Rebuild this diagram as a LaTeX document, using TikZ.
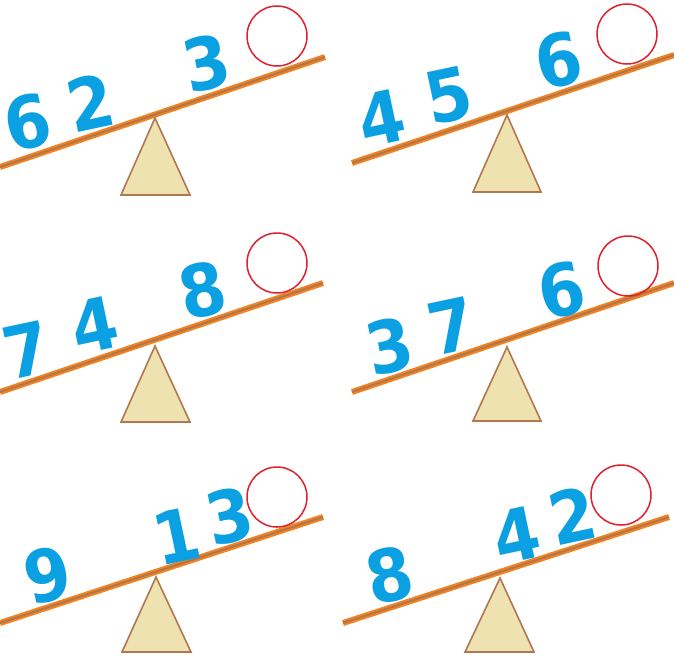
\documentclass[tikz,border=0pt]{standalone}
\usepackage{fontspec}
\newfontfamily\digitfont{DejaVu Sans}
\definecolor{beamor}{HTML}{F58220}
\definecolor{beamcore}{HTML}{B0784A}
\definecolor{fulcfill}{HTML}{EEE2B0}
\definecolor{fulcline}{HTML}{B07850}
\definecolor{ringred}{HTML}{E0202C}
\definecolor{digblue}{HTML}{0AA0E2}
\tikzset{
  beamline/.style={line width=6pt, draw=beamor},
  beamcoreline/.style={line width=2pt, draw=beamcore},
  fulcrum/.style={fill=fulcfill, draw=fulcline, line width=1.6pt, line join=miter},
  ring/.style={draw=ringred, line width=1.5pt},
  digit/.style={text=digblue, font=\digitfont\bfseries\fontsize{72}{72}\selectfont, inner sep=0pt, rotate=12, xscale=0.92}
}
\begin{document}
\begin{tikzpicture}[x=1pt,y=-1pt]
\useasboundingbox (0,0) rectangle (674,657);
% ---------- panel 1 ----------
\coordinate (b1l) at (0,167); \coordinate (b1r) at (325,57);
\draw[beamline] (b1l) -- (b1r); \draw[beamcoreline] (b1l) -- (b1r);
\draw[fulcrum] (155,118) -- (190,195) -- (121,195) -- cycle;
\draw[ring] (277,36) circle (30);
\node[digit] (p1a) at (28,122) {6};
\node[digit] (p1b) at (90,103) {2};
\node[digit] (p1c) at (207,63) {3};
% ---------- panel 2 ----------
\coordinate (b2l) at (352,163); \coordinate (b2r) at (674,55);
\draw[beamline] (b2l) -- (b2r); \draw[beamcoreline] (b2l) -- (b2r);
\draw[fulcrum] (507,115) -- (541,192) -- (473,192) -- cycle;
\draw[ring] (627,34) circle (30);
\node[digit] (p2a) at (382,118) {4};
\node[digit] (p2b) at (449,96) {5};
\node[digit] (p2c) at (559,60) {6};
% ---------- panel 3 ----------
\coordinate (b3l) at (0,392); \coordinate (b3r) at (323,283);
\draw[beamline] (b3l) -- (b3r); \draw[beamcoreline] (b3l) -- (b3r);
\draw[fulcrum] (155,346) -- (190,422) -- (121,422) -- cycle;
\draw[ring] (277,263) circle (30);
\node[digit] (p3a) at (27,350) {7};
\node[digit] (p3b) at (95,325) {4};
\node[digit] (p3c) at (203,290) {8};
% ---------- panel 4 ----------
\coordinate (b4l) at (352,392); \coordinate (b4r) at (674,283);
\draw[beamline] (b4l) -- (b4r); \draw[beamcoreline] (b4l) -- (b4r);
\draw[fulcrum] (507,347) -- (541,421) -- (473,421) -- cycle;
\draw[ring] (628,266) circle (30);
\node[digit] (p4a) at (390,346) {3};
\node[digit] (p4b) at (452,326) {7};
\node[digit] (p4c) at (562,290) {6};
% ---------- panel 5 ----------
\coordinate (b5l) at (0,623); \coordinate (b5r) at (323,517);
\draw[beamline] (b5l) -- (b5r); \draw[beamcoreline] (b5l) -- (b5r);
\draw[fulcrum] (156,577) -- (191,652) -- (122,652) -- cycle;
\draw[ring] (277,497) circle (30);
\node[digit] (p5a) at (48,575) {9};
\node[digit] (p5b) at (177,536) {1};
\node[digit] (p5c) at (230,516) {3};
% ---------- panel 6 ----------
\coordinate (b6l) at (343,623); \coordinate (b6r) at (669,517);
\draw[beamline] (b6l) -- (b6r); \draw[beamcoreline] (b6l) -- (b6r);
\draw[fulcrum] (500,578) -- (534,652) -- (465,652) -- cycle;
\draw[ring] (621,495) circle (30);
\node[digit] (p6a) at (390,575) {8};
\node[digit] (p6b) at (517,535) {4};
\node[digit] (p6c) at (572,516) {2};
\end{tikzpicture}
\end{document}
